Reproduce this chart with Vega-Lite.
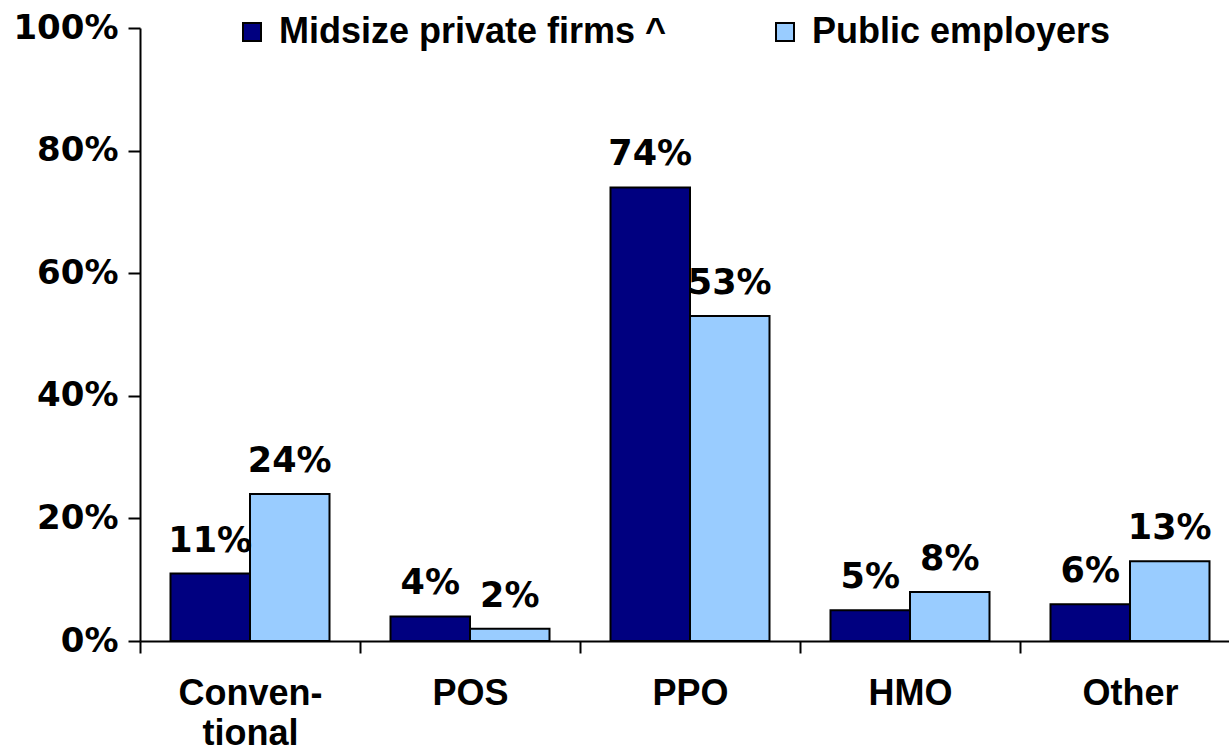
{
  "$schema": "https://vega.github.io/schema/vega-lite/v6.json",
  "autosize": {"type": "none"},
  "padding": {"left": 140, "top": 28, "right": 0, "bottom": 114},
  "width": 1089,
  "height": 613,
  "background": "white",
  "config": {
    "view": {"stroke": null},
    "font": "Liberation Sans",
    "axis": {"domainColor": "black", "tickColor": "black", "labelColor": "black", "labelFontWeight": "bold", "grid": false}
  },
  "data": {
    "values": [
      {"plan": "Conventional", "group": "Midsize private firms ^", "value": 0.11},
      {"plan": "Conventional", "group": "Public employers", "value": 0.24},
      {"plan": "POS", "group": "Midsize private firms ^", "value": 0.04},
      {"plan": "POS", "group": "Public employers", "value": 0.02},
      {"plan": "PPO", "group": "Midsize private firms ^", "value": 0.74},
      {"plan": "PPO", "group": "Public employers", "value": 0.53},
      {"plan": "HMO", "group": "Midsize private firms ^", "value": 0.05},
      {"plan": "HMO", "group": "Public employers", "value": 0.08},
      {"plan": "Other", "group": "Midsize private firms ^", "value": 0.06},
      {"plan": "Other", "group": "Public employers", "value": 0.13}
    ]
  },
  "encoding": {
    "x": {
      "field": "plan", "type": "nominal", "sort": ["Conventional", "POS", "PPO", "HMO", "Other"],
      "scale": {"range": [0, 1100], "paddingInner": 0, "paddingOuter": 0},
      "axis": {
        "title": null, "labelAngle": 0, "labelFont": "Liberation Sans", "labelFontSize": 36, "labelPadding": 23, "labelLineHeight": 40,
        "tickBand": "extent", "tickSize": 12, "tickWidth": 2, "domainWidth": 2,
        "labelExpr": "datum.value == 'Conventional' ? ['Conven-', 'tional'] : datum.value"
      }
    },
    "xOffset": {"field": "group", "type": "nominal", "scale": {"paddingInner": 0, "paddingOuter": 0.3836}},
    "y": {
      "field": "value", "type": "quantitative",
      "scale": {"domain": [0, 1], "nice": false},
      "axis": {
        "title": null, "values": [0, 0.2, 0.4, 0.6, 0.8, 1], "format": ".0%", "labelFont": "DejaVu Sans", "labelFontSize": 34,
        "labelPadding": 10, "tickSize": 12, "tickWidth": 2, "domainWidth": 2
      }
    }
  },
  "layer": [
    {
      "mark": {"type": "bar", "stroke": "black", "strokeWidth": 2},
      "encoding": {
        "color": {
          "field": "group", "type": "nominal",
          "scale": {"domain": ["Midsize private firms ^", "Public employers"], "range": ["#000080", "#99CCFF"]},
          "legend": {
            "title": null, "orient": "none", "direction": "horizontal", "legendX": 94, "legendY": -14,
            "symbolType": "square", "symbolSize": 324, "symbolStrokeColor": "black", "symbolStrokeWidth": 2,
            "symbolOpacity": 1, "labelFont": "Liberation Sans", "labelFontSize": 36, "labelFontWeight": "bold", "labelColor": "black",
            "labelOffset": 9, "columnPadding": 100, "labelLimit": 600
          }
        }
      }
    },
    {
      "mark": {"type": "text", "font": "DejaVu Sans", "fontSize": 35, "fontWeight": "bold", "color": "black", "baseline": "alphabetic", "dy": -22},
      "encoding": {
        "text": {"field": "value", "type": "quantitative", "format": ".0%"}
      }
    }
  ]
}
